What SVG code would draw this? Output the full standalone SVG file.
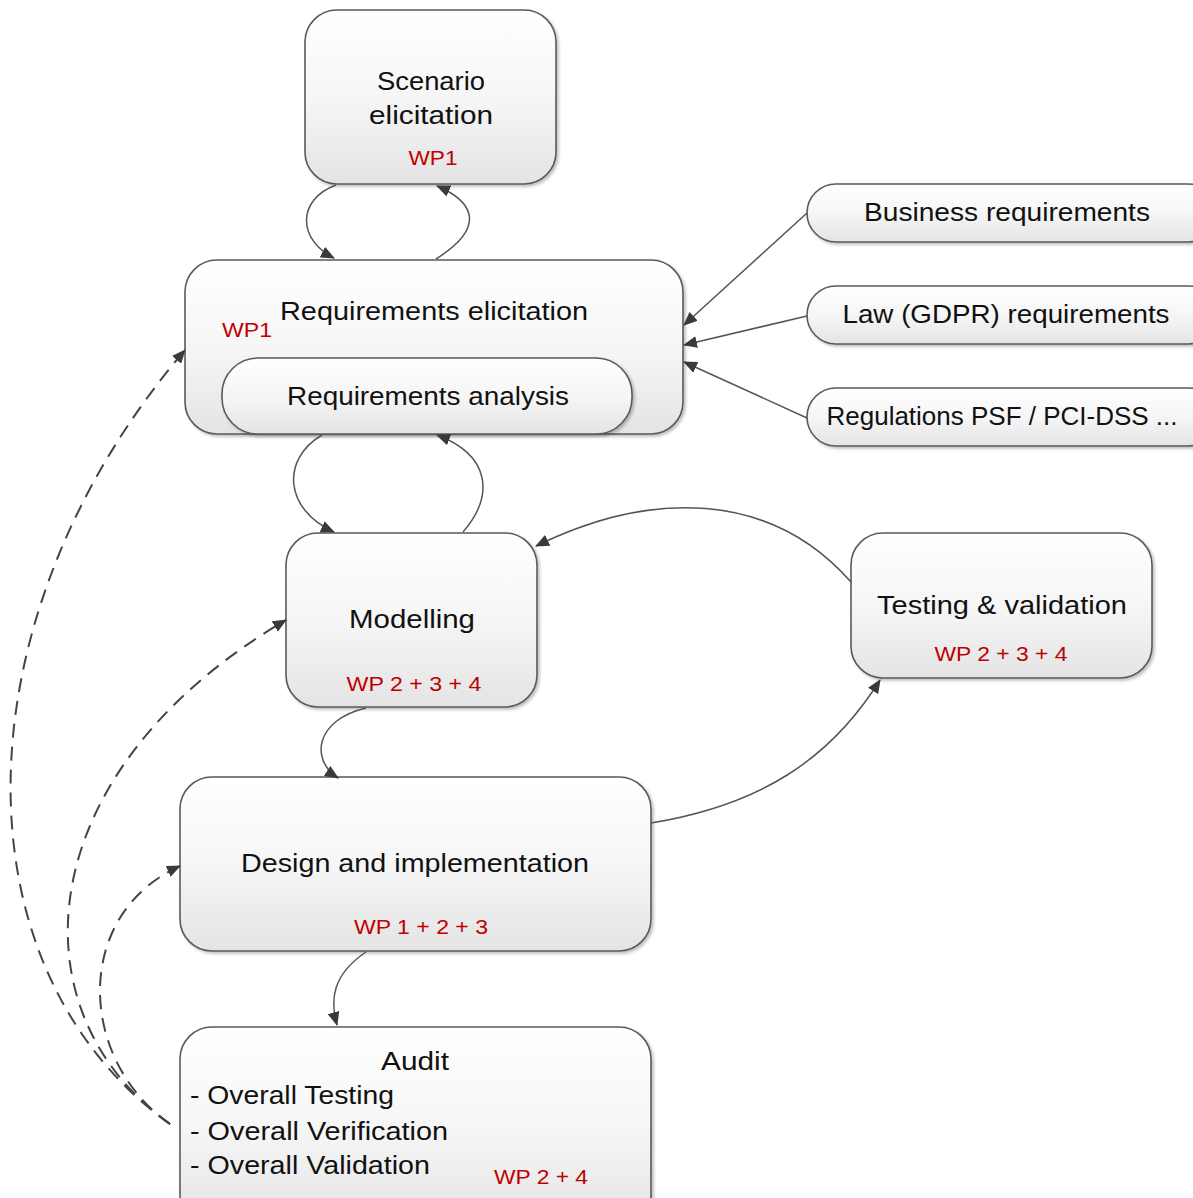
<svg xmlns="http://www.w3.org/2000/svg" width="1193" height="1198" viewBox="0 0 1193 1198">
<defs>
<linearGradient id="g" x1="0" y1="0" x2="0" y2="1">
<stop offset="0" stop-color="#ffffff"/>
<stop offset="0.5" stop-color="#f6f6f6"/>
<stop offset="1" stop-color="#e4e4e4"/>
</linearGradient>
<filter id="sh" x="-5%" y="-5%" width="112%" height="115%">
<feDropShadow dx="2" dy="2" stdDeviation="1.5" flood-color="#000" flood-opacity="0.25"/>
</filter>
<marker id="ar" markerWidth="14" markerHeight="12" refX="13" refY="6" orient="auto" markerUnits="userSpaceOnUse">
<path d="M0,0 L14,6 L0,12 Z" fill="#3a3a3a"/>
</marker>
</defs>
<style>
.box{fill:url(#g);stroke:#5a5a5a;stroke-width:1.6;filter:url(#sh)}
.t{font-family:"Liberation Sans",Arial,sans-serif;font-size:25px;fill:#111}
.r{font-family:"Liberation Sans",Arial,sans-serif;font-size:20px;fill:#c00000}
.c{fill:none;stroke:#555;stroke-width:1.5}
.d{fill:none;stroke:#444;stroke-width:2;stroke-dasharray:14,9}
</style>
<rect width="1193" height="1198" fill="#ffffff"/>

<g id="scenario">
<rect class="box" x="305" y="10" width="251" height="174" rx="32"/>
<text class="t" x="431" y="90" text-anchor="middle" textLength="108" lengthAdjust="spacingAndGlyphs">Scenario</text>
<text class="t" x="431" y="124" text-anchor="middle" textLength="124" lengthAdjust="spacingAndGlyphs">elicitation</text>
<text class="r" x="433" y="165" text-anchor="middle" textLength="49" lengthAdjust="spacingAndGlyphs">WP1</text>
</g>

<g id="req-elicitation">
<rect class="box" x="185" y="260" width="498" height="174" rx="32"/>
<text class="t" x="434" y="320" text-anchor="middle" textLength="308" lengthAdjust="spacingAndGlyphs">Requirements elicitation</text>
<text class="r" x="247" y="337" text-anchor="middle" textLength="50" lengthAdjust="spacingAndGlyphs">WP1</text>
</g>

<g id="req-analysis">
<rect class="box" x="222" y="358" width="410" height="76" rx="36"/>
<text class="t" x="428" y="405" text-anchor="middle" textLength="282" lengthAdjust="spacingAndGlyphs">Requirements analysis</text>
</g>

<g id="business">
<rect class="box" x="807" y="184" width="410" height="58" rx="29"/>
<text class="t" x="1007" y="221" text-anchor="middle" textLength="286" lengthAdjust="spacingAndGlyphs">Business requirements</text>
</g>
<g id="law">
<rect class="box" x="807" y="286" width="410" height="58" rx="29"/>
<text class="t" x="1006" y="323" text-anchor="middle" textLength="327" lengthAdjust="spacingAndGlyphs">Law (GDPR) requirements</text>
</g>
<g id="regulations">
<rect class="box" x="807" y="388" width="410" height="58" rx="29"/>
<text class="t" x="1002" y="425" text-anchor="middle" textLength="351" lengthAdjust="spacingAndGlyphs">Regulations PSF / PCI-DSS ...</text>
</g>

<g id="modelling">
<rect class="box" x="286" y="533" width="251" height="174" rx="32"/>
<text class="t" x="412" y="628" text-anchor="middle" textLength="126" lengthAdjust="spacingAndGlyphs">Modelling</text>
<text class="r" x="414" y="691" text-anchor="middle" textLength="135" lengthAdjust="spacingAndGlyphs">WP 2 + 3 + 4</text>
</g>

<g id="testing">
<rect class="box" x="851" y="533" width="301" height="145" rx="32"/>
<text class="t" x="1002" y="614" text-anchor="middle" textLength="250" lengthAdjust="spacingAndGlyphs">Testing &amp; validation</text>
<text class="r" x="1001" y="661" text-anchor="middle" textLength="133" lengthAdjust="spacingAndGlyphs">WP 2 + 3 + 4</text>
</g>

<g id="design">
<rect class="box" x="180" y="777" width="471" height="174" rx="32"/>
<text class="t" x="415" y="872" text-anchor="middle" textLength="348" lengthAdjust="spacingAndGlyphs">Design and implementation</text>
<text class="r" x="421" y="934" text-anchor="middle" textLength="134" lengthAdjust="spacingAndGlyphs">WP 1 + 2 + 3</text>
</g>

<g id="audit">
<rect class="box" x="180" y="1027" width="471" height="200" rx="32"/>
<text class="t" x="415" y="1070" text-anchor="middle" textLength="68" lengthAdjust="spacingAndGlyphs">Audit</text>
<text class="t" x="190" y="1104" textLength="204" lengthAdjust="spacingAndGlyphs">- Overall Testing</text>
<text class="t" x="190" y="1140" textLength="258" lengthAdjust="spacingAndGlyphs">- Overall Verification</text>
<text class="t" x="190" y="1174" textLength="240" lengthAdjust="spacingAndGlyphs">- Overall Validation</text>
<text class="r" x="494" y="1184" textLength="94" lengthAdjust="spacingAndGlyphs">WP 2 + 4</text>
</g>

<g id="connectors">
<path class="c" d="M336,185 C296,200 298,240 334,258" marker-end="url(#ar)"/>
<path class="c" d="M436,259 C490,225 470,200 437,186" marker-end="url(#ar)"/>
<path class="c" d="M807,213 L684,325" marker-end="url(#ar)"/>
<path class="c" d="M807,316 L684,345" marker-end="url(#ar)"/>
<path class="c" d="M807,418 L684,362" marker-end="url(#ar)"/>
<path class="c" d="M322,435 C280,460 285,510 334,532" marker-end="url(#ar)"/>
<path class="c" d="M463,532 C495,495 490,455 437,435" marker-end="url(#ar)"/>
<path class="c" d="M366,708 C315,720 310,760 338,778" marker-end="url(#ar)"/>
<path class="c" d="M366,952 C332,975 330,1000 337,1025" marker-end="url(#ar)"/>
<path class="c" d="M651,823 C760,805 830,760 880,680" marker-end="url(#ar)"/>
<path class="c" d="M851,582 C770,490 650,490 536,546" marker-end="url(#ar)"/>
<path class="d" d="M170,1124 C-45,970 -45,620 185,350" marker-end="url(#ar)"/>
<path class="d" d="M170,1124 C10,1010 30,770 286,620" marker-end="url(#ar)"/>
<path class="d" d="M170,1124 C78,1060 72,915 180,866" marker-end="url(#ar)"/>
</g>
</svg>
